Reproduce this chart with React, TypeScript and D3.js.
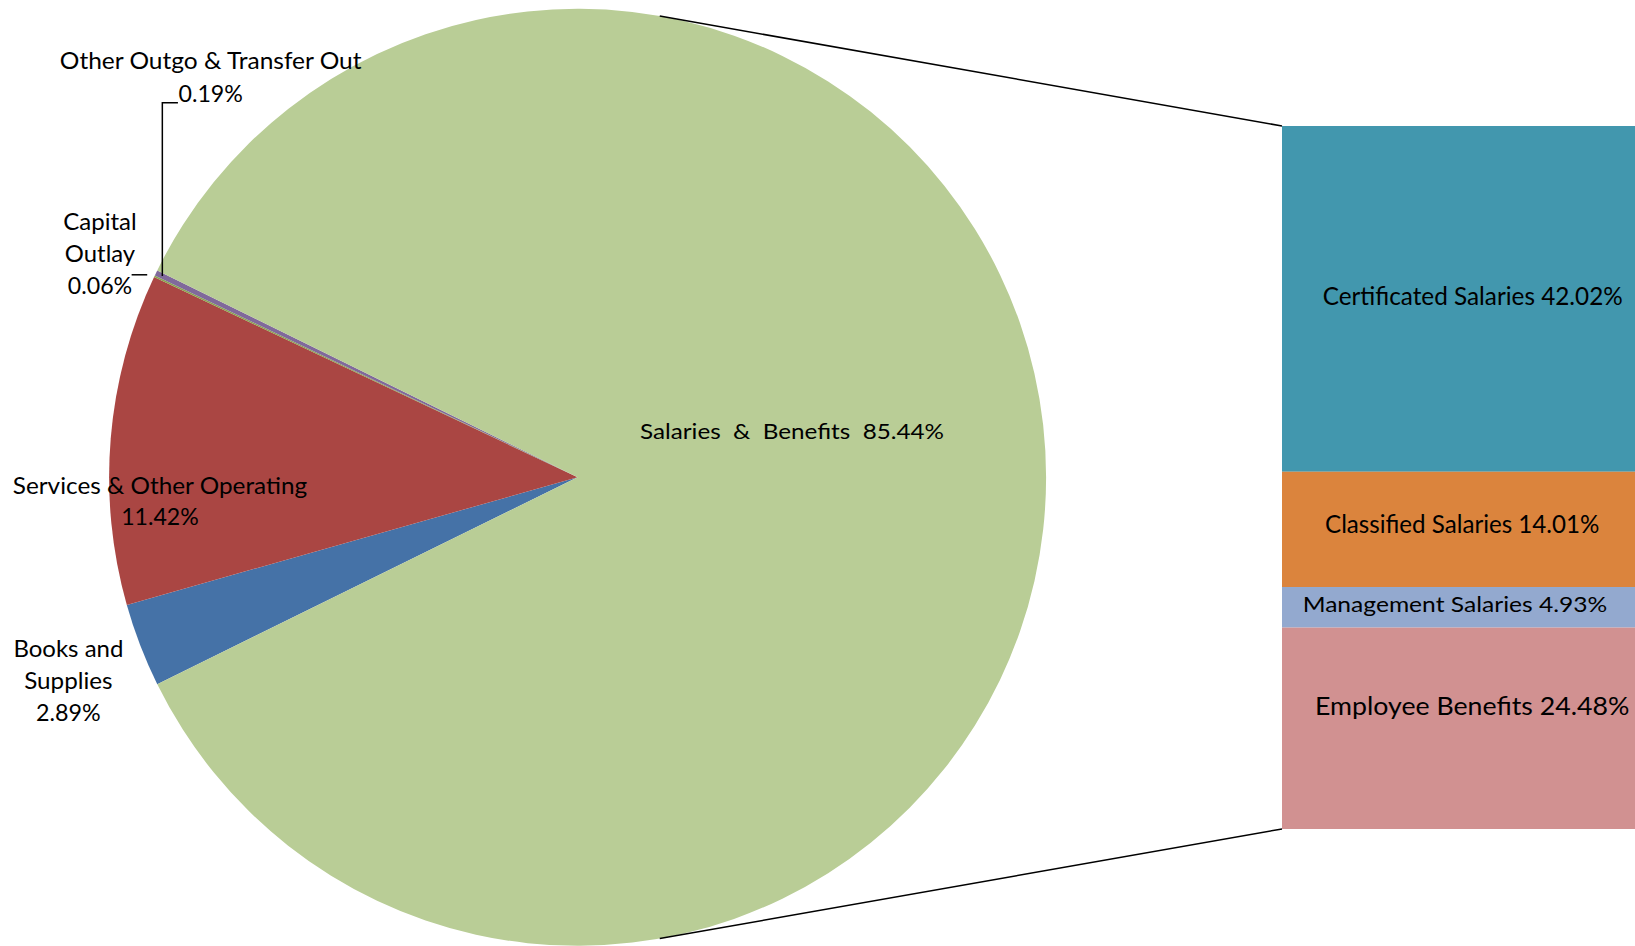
import React from 'react';
import * as d3 from 'd3';

// ---------- data ----------
const pieCategories = [
  'Books and Supplies',
  'Services & Other Operating',
  'Capital Outlay',
  'Other Outgo & Transfer Out',
  'Salaries & Benefits',
];
const pieValues = [2.89, 11.42, 0.06, 0.19, 85.44];
const pieColors = ['#4572A7', '#AA4643', '#89A54E', '#80699B', '#B9CD96'];

const barCategories = [
  'Certificated Salaries',
  'Classified Salaries',
  'Management Salaries',
  'Employee Benefits',
];
const barValues = [42.02, 14.01, 4.93, 24.48];
const barColors = ['#4297AE', '#DB843D', '#93A9CF', '#D19191'];

// label text lines (last line of each pie label is the percentage)
const pieLabelNameLines = [
  ['Books and', 'Supplies'],
  ['Services & Other Operating'],
  ['Capital', 'Outlay'],
  ['Other Outgo & Transfer Out'],
  [],
];

// ---------- layout ----------
const W = 1635;
const H = 946;
const PIE = { cx: 577.6, cy: 477.3, r: 468.5 };
const BAR = { x: 1282, w: 353, top: 126, bottom: 829 };
const CONNECTOR_ANGLE_DEG = 10.1;
const FONT = 'Lato, Carlito, Calibri, sans-serif';

// per pie label: center x, first baseline, line gap, font size, line widths
const pieLabelLayout = [
  { x: 68.4, y: 656.7, gap: 32, size: 22.4, widths: [110, 88.4, 64.7] },
  { x: 160, y: 494, gap: 31, size: 22.4, widths: [294.4, 77.6] },
  { x: 100, y: 230, gap: 32, size: 22.4, widths: [73.4, 70.3, 64.4] },
  { x: 210.7, y: 69.3, gap: 32.7, size: 22.4, widths: [301.7, 64.4] },
  { x: 792, y: 439.3, gap: 0, size: 21.4, widths: [304] },
];

const barLabelLayout = [
  { dx: 14.2, dy: 6, size: 24.3, width: 300 },
  { dx: 3.7, dy: 3.2, size: 24.2, width: 274.3 },
  { dx: -3.5, dy: 4.6, size: 21, width: 304.6 },
  { dx: 13.7, dy: -13, size: 25.5, width: 314.3 },
];

const pct = (v: number) => `${v.toFixed(2)}%`;

export default function App() {
  const total = d3.sum(pieValues);
  const otherShare = d3.sum(pieValues.slice(0, 4)) / total;
  const start = 1.5 * Math.PI - otherShare * Math.PI;
  const pie = d3
    .pie<number>()
    .sort(null)
    .value((d) => d)
    .startAngle(start)
    .endAngle(start + 2 * Math.PI);
  const arcs = pie(pieValues);
  const arc = d3.arc<d3.PieArcDatum<number>>().innerRadius(0).outerRadius(PIE.r);

  const polar = (a: number, rr: number): [number, number] => [
    PIE.cx + rr * Math.sin(a),
    PIE.cy - rr * Math.cos(a),
  ];

  // bar
  const barTotal = d3.sum(barValues);
  const y = d3.scaleLinear().domain([0, barTotal]).range([BAR.top, BAR.bottom]);
  const cum = d3.cumsum(barValues);
  const segs = barValues.map((v, i) => ({
    v,
    y0: y(i === 0 ? 0 : cum[i - 1]),
    y1: y(cum[i]),
  }));

  // connectors
  const ca = (CONNECTOR_ANGLE_DEG * Math.PI) / 180;
  const topPt = polar(ca, PIE.r);
  const botPt = polar(Math.PI - ca, PIE.r);

  // leader lines
  const otherMid = (arcs[3].startAngle + arcs[3].endAngle) / 2;
  const otherEnd = polar(otherMid, PIE.r - 7);
  const otherLay = pieLabelLayout[3];
  const otherElbowY = otherLay.y + otherLay.gap + 0.7;
  const capMid = (arcs[2].startAngle + arcs[2].endAngle) / 2;
  const capEnd = polar(capMid, PIE.r + 8);

  const pieLabels = pieValues.map((v, i) => {
    const lines = i === 4 ? ['Salaries  &  Benefits  ' + pct(v)] : [...pieLabelNameLines[i], pct(v)];
    return { lines, lay: pieLabelLayout[i], name: pieCategories[i] };
  });

  return (
    <div style={{ position: 'absolute', left: 0, top: 0, width: W, height: H, background: '#fff' }}>
      <svg width={W} height={H} style={{ display: 'block' }}>
        <g transform={`translate(${PIE.cx},${PIE.cy})`}>
          {arcs.map((a, i) => (
            <path key={pieCategories[i]} d={arc(a) || ''} fill={pieColors[i]} />
          ))}
        </g>
        {/* connector lines */}
        <line x1={topPt[0]} y1={topPt[1]} x2={BAR.x} y2={BAR.top} stroke="#000" strokeWidth={1.5} />
        <line x1={botPt[0]} y1={botPt[1]} x2={BAR.x} y2={BAR.bottom} stroke="#000" strokeWidth={1.5} />
        {/* bar */}
        <g>
          {segs.map((s, i) => (
            <rect key={barCategories[i]} x={BAR.x} y={s.y0} width={BAR.w} height={s.y1 - s.y0} fill={barColors[i]} />
          ))}
        </g>
        {/* leader lines */}
        <polyline
          points={`${otherEnd[0] + 15.6},${otherElbowY} ${otherEnd[0]},${otherElbowY} ${otherEnd[0]},${otherEnd[1]}`}
          fill="none"
          stroke="#000"
          strokeWidth={1.5}
        />
        <line x1={capEnd[0] - 15.6} y1={capEnd[1] + 2} x2={capEnd[0]} y2={capEnd[1] + 2} stroke="#000" strokeWidth={1.5} />
        {/* pie labels */}
        {pieLabels.map((l, i) => (
          <text
            key={l.name}
            fontFamily={FONT}
            fontSize={l.lay.size}
            fill="#000"
            textAnchor="middle"
            style={{ whiteSpace: 'pre' }}
          >
            {l.lines.map((t, j) => (
              <tspan
                key={j}
                x={l.lay.x}
                y={l.lay.y + j * l.lay.gap}
                textLength={l.lay.widths[j]}
                lengthAdjust="spacingAndGlyphs"
              >
                {t}
              </tspan>
            ))}
          </text>
        ))}
        {/* bar labels */}
        {segs.map((s, i) => {
          const lay = barLabelLayout[i];
          return (
            <text
              key={barCategories[i]}
              x={BAR.x + BAR.w / 2 + lay.dx}
              y={(s.y0 + s.y1) / 2 + lay.dy}
              fontFamily={FONT}
              fontSize={lay.size}
              fill="#000"
              textAnchor="middle"
              textLength={lay.width}
              lengthAdjust="spacingAndGlyphs"
            >
              {`${barCategories[i]} ${pct(s.v)}`}
            </text>
          );
        })}
      </svg>
    </div>
  );
}
